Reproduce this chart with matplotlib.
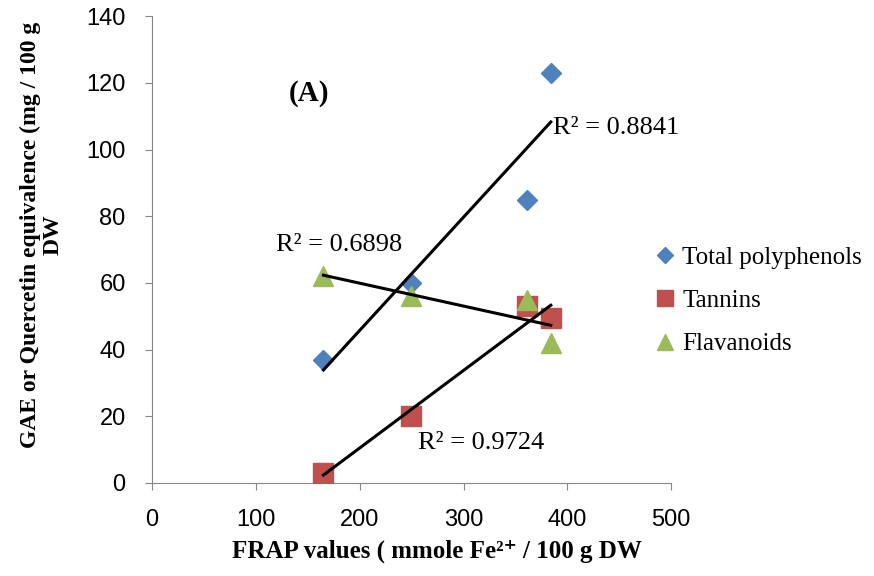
import numpy as np
import matplotlib
matplotlib.use("Agg")
import matplotlib.pyplot as plt

# FRAP values (x) and contents (y)
frap = [165, 249, 361, 384]
polyphenols = [37, 60, 85, 123]
tannins = [3, 20, 53, 49.5]
flavanoids = [62, 56, 55, 42]

series = [
    ("Total polyphenols", polyphenols, "D", "#4F81BD", 10),
    ("Tannins", tannins, "s", "#C0504D", 14.5),
    ("Flavanoids", flavanoids, "^", "#9BBB59", 14.5),
]
r2_labels = ["R² = 0.8841", "R² = 0.9724", "R² = 0.6898"]

serif = ["Liberation Serif", "DejaVu Serif"]
tickfont = "Liberation Sans"

fig = plt.figure(figsize=(8.74, 5.76), dpi=100)
ax = fig.add_axes([0.174, 0.1615, 0.594, 0.8105])

x = np.array(frap, dtype=float)
for name, ys, mk, col, ms in series:
    ax.plot(frap, ys, linestyle="none", marker=mk, color=col, markersize=ms,
            label=name, zorder=3)
for name, ys, mk, col, ms in series:
    m, b = np.polyfit(x, ys, 1)
    xx = np.array([x.min(), x.max()])
    ax.plot(xx, m * xx + b, color="black", lw=2.2, zorder=4)

ax.text(386, 106.5, r2_labels[0], fontsize=19, family=serif, va="center")
ax.text(256, 12.0, r2_labels[1], fontsize=19, family=serif, va="center")
ax.text(119, 71.3, r2_labels[2], fontsize=19, family=serif, va="center")
ax.text(132, 116.8, "(A)", fontsize=21, family=serif, weight="bold", va="center")

ax.set_xlim(0, 500)
ax.set_ylim(0, 140)
ax.set_xticks(range(0, 501, 100))
ax.set_yticks(range(0, 141, 20))
for s in ["top", "right"]:
    ax.spines[s].set_visible(False)
for s in ["left", "bottom"]:
    ax.spines[s].set_color("#868686")
ax.tick_params(direction="out", length=5, color="#868686", labelsize=17)
ax.tick_params(axis="x", pad=14)
ax.tick_params(axis="y", pad=14)
for lab in ax.get_xticklabels() + ax.get_yticklabels():
    lab.set_family(tickfont)

ax.set_xlabel("FRAP values ( mmole Fe²⁺ / 100 g DW", fontsize=18, family=serif,
              weight="bold")
ax.xaxis.set_label_coords(0.549, -0.122)
ax.set_ylabel("GAE or Quercetin equivalence (mg / 100 g\nDW", fontsize=17,
              family=serif, weight="bold", linespacing=1.06)
ax.yaxis.set_label_coords(-0.171, 0.531)

leg = ax.legend(loc="center left", bbox_to_anchor=(0.936, 0.39), frameon=False,
                prop={"family": serif, "size": 18}, handletextpad=0.0,
                handlelength=1.36, labelspacing=0.83, markerscale=0.8,
                borderaxespad=0)

fig.savefig("out.png", dpi=100)
